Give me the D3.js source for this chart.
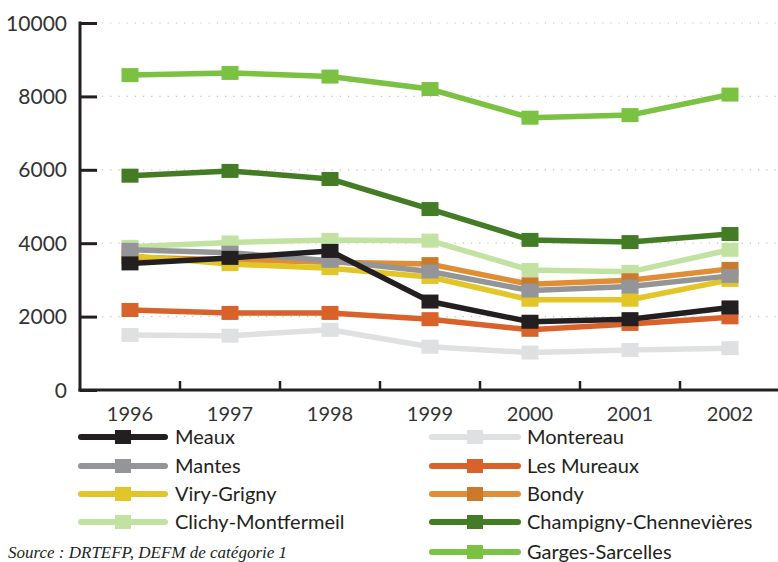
<!DOCTYPE html>
<html><head><meta charset="utf-8">
<script src="https://cdn.jsdelivr.net/npm/d3@7"></script>
<style>body{margin:0;background:#fff}svg{display:block}</style>
</head><body><svg id="c" width="778" height="562"></svg>
<script>
const years = ["1996","1997","1998","1999","2000","2001","2002"];
const yTicks = [0,2000,4000,6000,8000,10000];
const meaux = [3450,3600,3790,2410,1860,1930,2250];
const montereau = [1500,1480,1640,1180,1020,1090,1140];
const mantes = [3820,3740,3520,3230,2710,2820,3110];
const lesMureaux = [2180,2100,2100,1930,1640,1800,1980];
const viryGrigny = [3660,3430,3320,3080,2460,2460,3000];
const bondy = [3620,3550,3480,3430,2880,2990,3300];
const clichy = [3900,4020,4090,4070,3270,3220,3820];
const champigny = [5840,5970,5750,4930,4090,4030,4250];
const garges = [8580,8640,8540,8200,7420,7490,8050];

const series = [
  {name:"Meaux", values:meaux, color:"#231f20", mark:"#231f20"},
  {name:"Montereau", values:montereau, color:"#dfe0e2", mark:"#dfe0e2"},
  {name:"Mantes", values:mantes, color:"#939598", mark:"#939598"},
  {name:"Les Mureaux", values:lesMureaux, color:"#d9622b", mark:"#d9622b"},
  {name:"Viry-Grigny", values:viryGrigny, color:"#e2c628", mark:"#e2c628"},
  {name:"Bondy", values:bondy, color:"#e08e35", mark:"#cc7a2a"},
  {name:"Clichy-Montfermeil", values:clichy, color:"#c2e2a2", mark:"#c2e2a2"},
  {name:"Champigny-Chennevières", values:champigny, color:"#437c24", mark:"#437c24"},
  {name:"Garges-Sarcelles", values:garges, color:"#7bc142", mark:"#7bc142"}
];
const drawOrder = ["Garges-Sarcelles","Champigny-Chennevières","Clichy-Montfermeil","Montereau","Les Mureaux","Bondy","Viry-Grigny","Mantes","Meaux"];

const svg = d3.select("#c");
const x = d3.scaleBand().domain(years).range([80,780]);
const y = d3.scaleLinear().domain([0,10000]).range([390,23]);

// grid
svg.append("g").selectAll("line").data(yTicks.filter(d=>d>0)).join("line")
  .attr("x1",102).attr("x2",778).attr("y1",d=>y(d)).attr("y2",d=>y(d))
  .attr("stroke","#c4c4c4").attr("stroke-width",1.2).attr("stroke-dasharray","1.2 7");

// y axis
const ya = svg.append("g").attr("transform","translate(80,0)")
  .call(d3.axisRight(y).tickValues(yTicks).tickSize(17).tickFormat(""));
ya.select(".domain").remove();
ya.selectAll("line").attr("stroke","#231f20").attr("stroke-width",3);
svg.append("line").attr("x1",80).attr("x2",80).attr("y1",y(10000)-1.5).attr("y2",391.5)
  .attr("stroke","#231f20").attr("stroke-width",3);
svg.append("g").selectAll("text").data(yTicks).join("text")
  .attr("x",67).attr("y",d=>y(d)).attr("dy","0.36em").attr("text-anchor","end")
  .attr("font-family","Lato, sans-serif").attr("font-size",21).attr("fill","#333")
  .text(d=>d);

// x axis
svg.append("line").attr("x1",78.5).attr("x2",778).attr("y1",390).attr("y2",390)
  .attr("stroke","#231f20").attr("stroke-width",3);
svg.append("g").selectAll("line").data(years.slice(1)).join("line")
  .attr("x1",d=>x(d)).attr("x2",d=>x(d)).attr("y1",381).attr("y2",390)
  .attr("stroke","#231f20").attr("stroke-width",2.5);
svg.append("line").attr("x1",x("2002")+x.bandwidth()).attr("x2",x("2002")+x.bandwidth()).attr("y1",381).attr("y2",390)
  .attr("stroke","#231f20").attr("stroke-width",2.5);
svg.append("g").selectAll("text").data(years).join("text")
  .attr("x",d=>x(d)+x.bandwidth()/2).attr("y",421).attr("text-anchor","middle")
  .attr("font-family","Lato, sans-serif").attr("font-size",20).attr("fill","#333")
  .text(d=>d);

// series
const line = d3.line().x((d,i)=>x(years[i])+x.bandwidth()/2).y(d=>y(d));
const ordered = drawOrder.map(n=>series.find(s=>s.name===n));
const sg = svg.append("g").selectAll("g").data(ordered).join("g");
sg.append("path").attr("d",s=>line(s.values)).attr("fill","none")
  .attr("stroke",s=>s.color).attr("stroke-width",5.5).attr("stroke-linejoin","round");
sg.selectAll("rect").data(s=>s.values.map((v,i)=>({v,i,c:s.mark}))).join("rect")
  .attr("x",d=>x(years[d.i])+x.bandwidth()/2-8.5).attr("y",d=>y(d.v)-7)
  .attr("width",17).attr("height",14).attr("fill",d=>d.c);

// legend
const legLeft = ["Meaux","Mantes","Viry-Grigny","Clichy-Montfermeil"];
const legRight = ["Montereau","Les Mureaux","Bondy","Champigny-Chennevières","Garges-Sarcelles"];
const rowsY = [437,466,494,522,552];
function legend(names, x0, x1, tx){
  const g = svg.append("g").selectAll("g").data(names).join("g")
    .attr("transform",(d,i)=>`translate(0,${rowsY[i]})`);
  g.append("line").attr("x1",x0).attr("x2",x1).attr("y1",0).attr("y2",0)
    .attr("stroke",n=>series.find(s=>s.name===n).color).attr("stroke-width",6).attr("stroke-linecap","round");
  g.append("rect").attr("x",(x0+x1)/2-8).attr("y",-7).attr("width",16).attr("height",14)
    .attr("fill",n=>series.find(s=>s.name===n).mark);
  g.append("text").attr("x",tx).attr("y",0).attr("dy","0.36em")
    .attr("font-family","Lato, sans-serif").attr("font-size",20).attr("fill","#231f20")
    .text(n=>n);
}
legend(legLeft, 81, 165, 175);
legend(legRight, 432, 518, 527);

svg.append("text").attr("x",8).attr("y",558)
  .attr("font-family","'Liberation Serif', 'DejaVu Serif', serif").attr("font-style","italic")
  .attr("font-size",17).attr("fill","#231f20")
  .text("Source : DRTEFP, DEFM de catégorie 1");
</script></body></html>
